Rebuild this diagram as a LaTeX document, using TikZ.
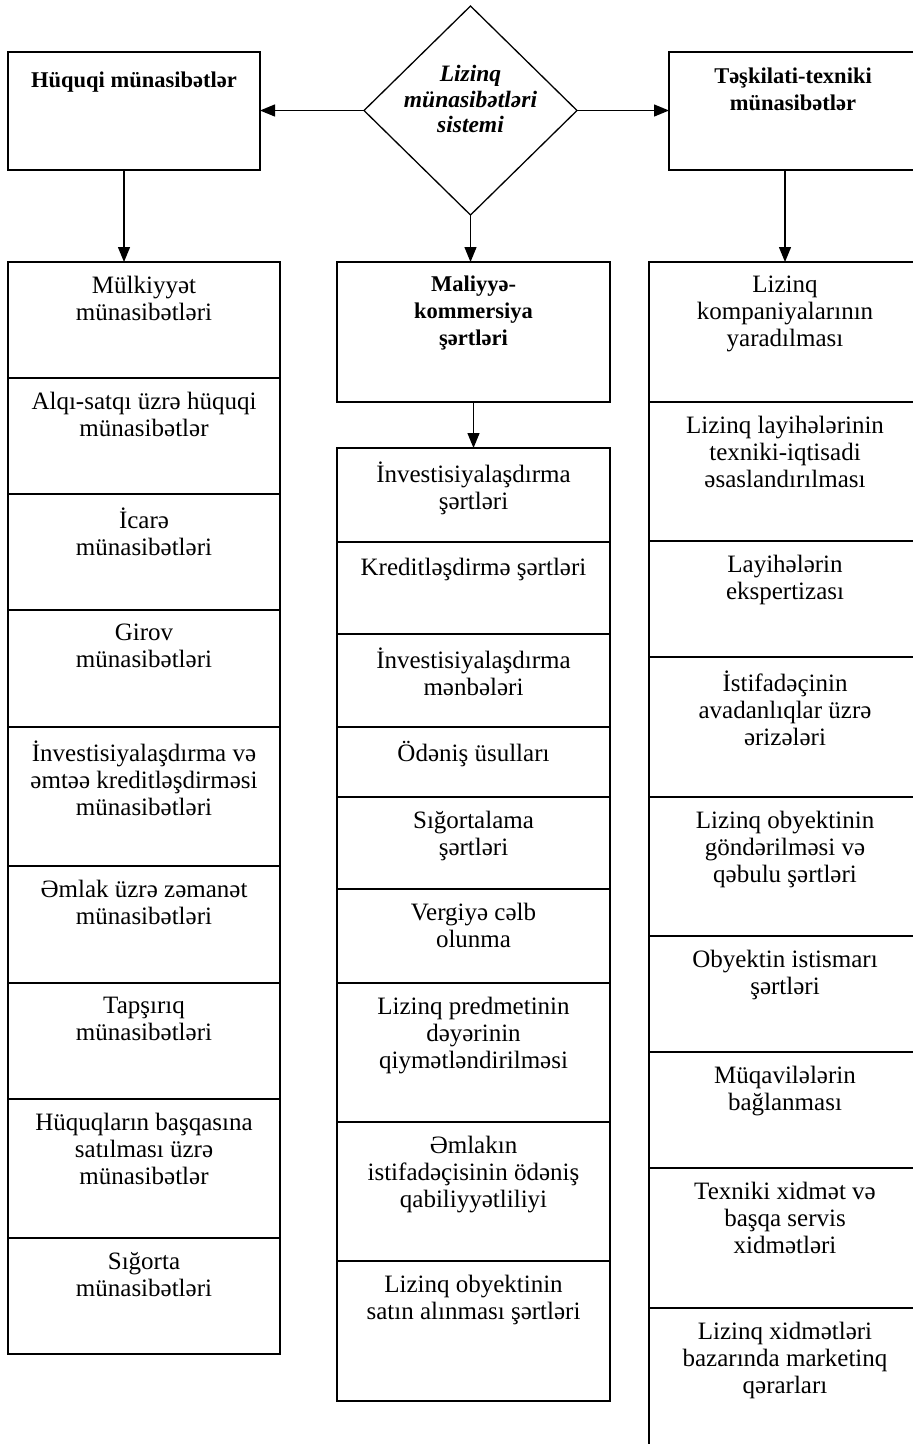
\documentclass[tikz,border=0pt]{standalone}
\usepackage{fontspec}
\setmainfont{Liberation Serif}
\usetikzlibrary{shapes.geometric,arrows.meta}

% one cell of a column: frame node plus top-aligned text
\newcommand\cellbox[6]{%
  \node[cellframe, minimum width={#3-#2}, minimum height={#5-#4}, anchor=north west] (#1) at (#2,#4) {};
  \node[celltext] (#1t) at ([yshift=-14pt]#1.north) {#6};
}

\tikzset{
  cellframe/.style={draw, line width=1.3pt, inner sep=0pt, outer sep=0pt},
  headframe/.style={draw, line width=1.8pt, inner sep=0pt, outer sep=0pt},
  celltext/.style={anchor=north, align=center, inner sep=0pt,
    font=\fontsize{25}{27}\selectfont, execute at begin node=\strut},
  headtext/.style={anchor=north, align=center, inner sep=0pt,
    font=\fontsize{22.5}{27}\selectfont\bfseries, execute at begin node=\strut},
  arr/.style={line width=1.3pt, -{Triangle[length=15pt,width=12pt]}},
}

\begin{document}
\begin{tikzpicture}[x=1pt, y=-1pt]
\useasboundingbox (0,0) rectangle (913,1444);
\clip (0,0) rectangle (913,1444);

% central diamond
\node[draw, diamond, line width=1.3pt, minimum width=213pt, minimum height=209pt,
      inner sep=0pt, outer sep=0pt] (dia) at (470.5,110.5) {};
\node[align=center, inner sep=0pt, font=\fontsize{23.5}{25.5}\selectfont\bfseries\itshape]
  (diat) at (470.5,99) {Lizinq\\münasibətləri\\sistemi};

% top-level headers
\node[headframe, minimum width=252pt, minimum height=118pt, anchor=north west] (hq) at (8,52) {};
\node[headtext] (hqt) at ([yshift=-16pt]hq.north) {Hüquqi münasibətlər};
\node[headframe, minimum width=248pt, minimum height=118pt, anchor=north west] (tt) at (669,52) {};
\node[headtext] (ttt) at ([yshift=-16pt]tt.north) {Təşkilati-texniki\\münasibətlər};
\node[headframe, line width=1.4pt, minimum width=273pt, minimum height=140pt, anchor=north west] (mk) at (337,262) {};
\node[headtext] (mkt) at ([yshift=-14pt]mk.north) {Maliyyə-\\kommersiya\\şərtləri};

% left column
\cellbox{L1}{8}{280}{262}{378}{Mülkiyyət\\münasibətləri}
\cellbox{L2}{8}{280}{378}{494}{Alqı-satqı üzrə hüquqi\\münasibətlər}
\cellbox{L3}{8}{280}{494}{610}{İcarə\\münasibətləri}
\cellbox{L4}{8}{280}{610}{727}{Girov\\münasibətləri}
\cellbox{L5}{8}{280}{727}{866}{İnvestisiyalaşdırma və\\əmtəə kreditləşdirməsi\\münasibətləri}
\cellbox{L6}{8}{280}{866}{983}{Əmlak üzrə zəmanət\\münasibətləri}
\cellbox{L7}{8}{280}{983}{1099}{Tapşırıq\\münasibətləri}
\cellbox{L8}{8}{280}{1099}{1238}{Hüquqların başqasına\\satılması üzrə\\münasibətlər}
\cellbox{L9}{8}{280}{1238}{1354}{Sığorta\\münasibətləri}

% middle column
\cellbox{M1}{337}{610}{448}{542}{İnvestisiyalaşdırma\\şərtləri}
\cellbox{M2}{337}{610}{542}{634}{Kreditləşdirmə şərtləri}
\cellbox{M3}{337}{610}{634}{727}{İnvestisiyalaşdırma\\mənbələri}
\cellbox{M4}{337}{610}{727}{797}{Ödəniş üsulları}
\cellbox{M5}{337}{610}{797}{889}{Sığortalama\\şərtləri}
\cellbox{M6}{337}{610}{889}{983}{Vergiyə cəlb\\olunma}
\cellbox{M7}{337}{610}{983}{1122}{Lizinq predmetinin\\dəyərinin\\qiymətləndirilməsi}
\cellbox{M8}{337}{610}{1122}{1261}{Əmlakın\\istifadəçisinin ödəniş\\qabiliyyətliliyi}
\cellbox{M9}{337}{610}{1261}{1401}{Lizinq obyektinin\\satın alınması şərtləri}

% right column
\cellbox{R1}{649}{921}{262}{402}{Lizinq\\kompaniyalarının\\yaradılması}
\cellbox{R2}{649}{921}{402}{541}{Lizinq layihələrinin\\texniki-iqtisadi\\əsaslandırılması}
\cellbox{R3}{649}{921}{541}{657}{Layihələrin\\ekspertizası}
\cellbox{R4}{649}{921}{657}{797}{İstifadəçinin\\avadanlıqlar üzrə\\ərizələri}
\cellbox{R5}{649}{921}{797}{936}{Lizinq obyektinin\\göndərilməsi və\\qəbulu şərtləri}
\cellbox{R6}{649}{921}{936}{1052}{Obyektin istismarı\\şərtləri}
\cellbox{R7}{649}{921}{1052}{1168}{Müqavilələrin\\bağlanması}
\cellbox{R8}{649}{921}{1168}{1308}{Texniki xidmət və\\başqa servis\\xidmətləri}
\cellbox{R9}{649}{921}{1308}{1470}{Lizinq xidmətləri\\bazarında marketinq\\qərarları}

% connectors
\draw[arr] (dia.west) -- (dia.west -| hq.east);
\draw[arr] (dia.east) -- (dia.east -| tt.west);
\draw[arr] ([xshift=-10pt]hq.south) -- ([xshift=-10pt]hq.south |- L1.north);
\draw[arr] (dia.south) -- (dia.south |- mk.north);
\draw[arr] (mk.south) -- (mk.south |- M1.north);
\draw[arr] (tt.south -| R1.north) -- (R1.north);
\end{tikzpicture}
\end{document}
